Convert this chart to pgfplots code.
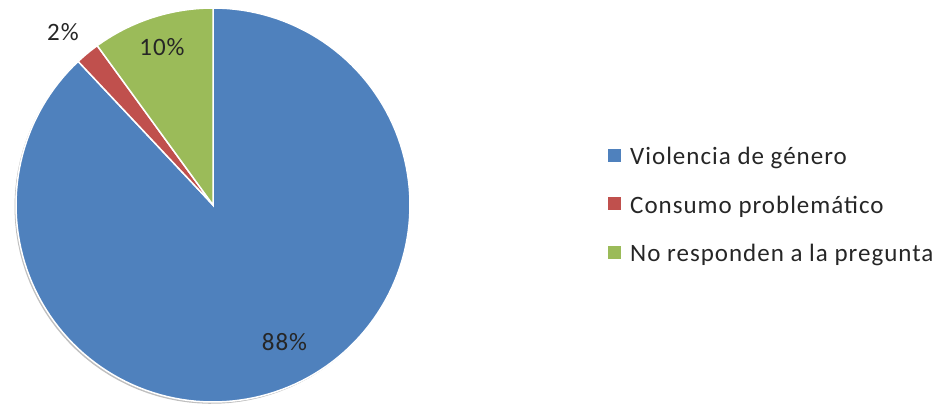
\documentclass[border=0pt]{standalone}
\usepackage{pgfplots}
\pgfplotsset{compat=1.18}
\usepackage{pgfplotstable}
\usepackage{fontspec}
\setmainfont{Carlito}
\newfontfamily\chartfont[LetterSpace=4]{Carlito}
\definecolor{pieblue}{HTML}{4F81BD}
\definecolor{piered}{HTML}{C0504D}
\definecolor{piegreen}{HTML}{9BBB59}
\definecolor{txt}{HTML}{262626}
\pgfplotstableread{
label pct
A 88
B 2
C 10
}\pietable
\pgfplotstablegetelem{0}{pct}\of\pietable \let\pa\pgfplotsretval
\pgfplotstablegetelem{1}{pct}\of\pietable \let\pb\pgfplotsretval
\pgfplotstablegetelem{2}{pct}\of\pietable \let\pc\pgfplotsretval
\pgfmathsetmacro{\angA}{90}
\pgfmathsetmacro{\angB}{90-3.6*\pa}
\pgfmathsetmacro{\angC}{\angB-3.6*\pb}
\pgfmathsetmacro{\angD}{\angC-3.6*\pc}
\def\cx{213}
\def\cy{199}
\def\rr{197}
\begin{document}
\begin{tikzpicture}
\begin{axis}[
  scale only axis, width=939pt, height=404pt,
  xmin=0, xmax=939, ymin=0, ymax=404,
  axis lines=none,
  legend cell align=left,
  legend image code/.code={\fill[#1,draw=none] (0pt,-5pt) rectangle (13pt,8pt);},
  legend style={draw=none, fill=none, inner sep=0pt,
    font=\chartfont\fontsize{25}{30}\selectfont\color{txt},
    row sep=27.5pt, column sep=8pt,
    nodes={inner sep=1pt},
    at={(608/939,0.492)}, anchor=west},
]
% shadow
\addplot[fill=black!25, draw=none, samples=120, domain=0:360, variable=\t, forget plot]
  ({\cx-1.5+\rr*cos(t)},{\cy-1.8+\rr*sin(t)});
\addplot[fill=pieblue, draw=white, line width=1.5pt, samples=150, domain=\angB:\angA, variable=\t]
  ({\cx+\rr*cos(t)},{\cy+\rr*sin(t)}) -- (\cx,\cy) -- cycle;
\addlegendentry{Violencia de género}
\addplot[fill=piered, draw=white, line width=1.5pt, samples=10, domain=\angC:\angB, variable=\t]
  ({\cx+\rr*cos(t)},{\cy+\rr*sin(t)}) -- (\cx,\cy) -- cycle;
\addlegendentry{Consumo problemático}
\addplot[fill=piegreen, draw=white, line width=1.5pt, samples=30, domain=\angD:\angC, variable=\t]
  ({\cx+\rr*cos(t)},{\cy+\rr*sin(t)}) -- (\cx,\cy) -- cycle;
\addlegendentry{No responden a la pregunta}
\node[font=\chartfont\fontsize{25}{30}\selectfont, text=txt] at (63,371.5) {2\%};
\node[font=\chartfont\fontsize{25}{30}\selectfont, text=txt] at (162,356.5) {10\%};
\node[font=\chartfont\fontsize{25}{30}\selectfont, text=txt] at (284.5,62) {88\%};
\end{axis}
\pgfresetboundingbox
\path (current axis.south west) rectangle (current axis.north east);
\end{tikzpicture}
\end{document}
